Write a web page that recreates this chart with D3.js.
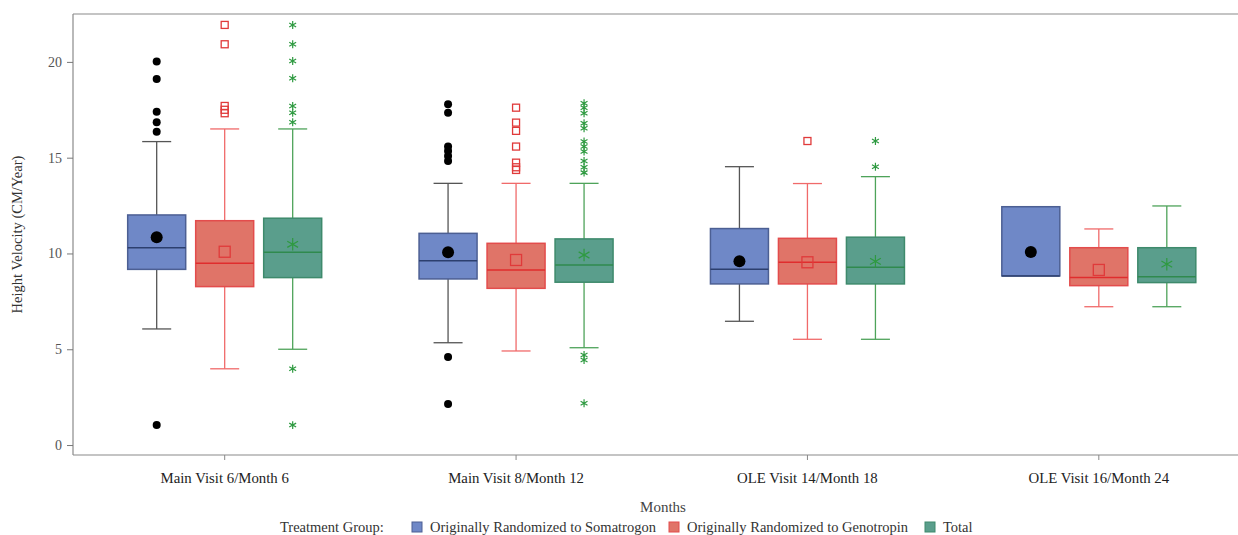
<!DOCTYPE html>
<html>
<head>
<meta charset="utf-8">
<script src="https://cdn.jsdelivr.net/npm/d3@7"></script>
<style>
  body { margin: 0; background: #fff; }
</style>
</head>
<body>
<div id="vis"></div>
<script>
const visits = ['Main Visit 6/Month 6', 'Main Visit 8/Month 12', 'OLE Visit 14/Month 18', 'OLE Visit 16/Month 24'];
const groups = ['Originally Randomized to Somatrogon', 'Originally Randomized to Genotropin', 'Total'];
const yTicks = [0, 5, 10, 15, 20];

// per visit: low whisker, q1, median, q3, high whisker, mean, outliers
const somatrogon = [
  { lo: 6.06, q1: 9.17, med: 10.30, q3: 12.01, hi: 15.84, mean: 10.85, out: [20.02, 19.11, 17.40, 16.85, 16.36, 1.04] },
  { lo: 5.34, q1: 8.67, med: 9.62, q3: 11.05, hi: 13.66, mean: 10.06, out: [17.79, 17.35, 15.58, 15.35, 15.09, 14.83, 4.60, 2.14] },
  { lo: 6.46, q1: 8.41, med: 9.17, q3: 11.30, hi: 14.53, mean: 9.59, out: [] },
  { lo: 8.83, q1: 8.83, med: 8.83, q3: 12.44, hi: 12.44, mean: 10.08, out: [] }
];
const genotropin = [
  { lo: 3.98, q1: 8.27, med: 9.49, q3: 11.71, hi: 16.50, mean: 10.09, out: [21.93, 20.92, 17.70, 17.50, 17.32] },
  { lo: 4.91, q1: 8.18, med: 9.14, q3: 10.53, hi: 13.66, mean: 9.66, out: [17.61, 16.83, 16.40, 15.58, 14.74, 14.50, 14.36] },
  { lo: 5.52, q1: 8.41, med: 9.54, q3: 10.79, hi: 13.65, mean: 9.54, out: [15.87] },
  { lo: 7.22, q1: 8.32, med: 8.74, q3: 10.30, hi: 11.28, mean: 9.14, out: [] }
];
const total = [
  { lo: 5.00, q1: 8.74, med: 10.06, q3: 11.84, hi: 16.50, mean: 10.48, out: [21.93, 20.92, 20.05, 19.15, 17.70, 17.35, 16.85, 3.98, 1.04] },
  { lo: 5.08, q1: 8.50, med: 9.40, q3: 10.76, hi: 13.66, mean: 9.92, out: [17.84, 17.61, 17.32, 16.80, 16.54, 15.84, 15.58, 15.32, 14.83, 14.50, 14.22, 4.70, 4.44, 2.18] },
  { lo: 5.52, q1: 8.41, med: 9.28, q3: 10.85, hi: 14.01, mean: 9.59, out: [15.87, 14.53] },
  { lo: 7.22, q1: 8.48, med: 8.79, q3: 10.30, hi: 12.48, mean: 9.44, out: [] }
];

const series = [somatrogon, genotropin, total];

const styles = [
  { fill: '#6f88c7', stroke: '#4c5f93', whisker: '#555555', median: '#2c3f6e', marker: 'circle', markerColor: '#000' },
  { fill: '#e07468', stroke: '#e34c4c', whisker: '#f06a6a', median: '#e02d2d', marker: 'square', markerColor: '#e03a3a' },
  { fill: '#5a9e8c', stroke: '#3e8a6c', whisker: '#4ea35a', median: '#2f8a4e', marker: 'asterisk', markerColor: '#2e9a40' }
];

const serif = '"Liberation Serif", "Times New Roman", Times, "DejaVu Serif", serif';

const width = 1238;
const height = 535;
const frame = { left: 73, right: 1238, top: 14, bottom: 455 };

const svg = d3.select('#vis').append('svg')
  .attr('width', width)
  .attr('height', height)
  .attr('font-family', serif);

const x = d3.scaleBand()
  .domain(visits)
  .range([79, 1244.5]);

const xInner = d3.scaleBand()
  .domain(groups)
  .range([-97, 97])
  .paddingInner(0.147);

const y = d3.scaleLinear()
  .domain([-0.52, 22.5])
  .range([frame.bottom, frame.top]);

// frame
svg.append('g')
  .attr('stroke', '#8a8a8a')
  .attr('stroke-width', 1.2)
  .call(g => {
    g.append('line').attr('x1', frame.left).attr('x2', frame.right).attr('y1', frame.top).attr('y2', frame.top);
    g.append('line').attr('x1', frame.left).attr('x2', frame.right).attr('y1', frame.bottom).attr('y2', frame.bottom);
    g.append('line').attr('x1', frame.left).attr('x2', frame.left).attr('y1', frame.top).attr('y2', frame.bottom);
  });

// y axis
const yAxis = svg.append('g')
  .attr('transform', `translate(${frame.left},0)`)
  .call(d3.axisLeft(y).tickValues(yTicks).tickSize(6).tickPadding(5))
  .attr('font-family', serif)
  .attr('font-size', 14);
yAxis.select('.domain').remove();
yAxis.selectAll('.tick line').attr('stroke', '#777');
yAxis.selectAll('.tick text').attr('fill', '#555');

// x axis
const xAxis = svg.append('g')
  .attr('transform', `translate(0,${frame.bottom})`)
  .call(d3.axisBottom(x).tickSize(5).tickPadding(12))
  .attr('font-family', serif)
  .attr('font-size', 14.8);
xAxis.select('.domain').remove();
xAxis.selectAll('.tick line').attr('stroke', '#888');
xAxis.selectAll('.tick text').attr('fill', '#222');

svg.append('text')
  .attr('transform', `translate(22,${(frame.top + frame.bottom) / 2}) rotate(-90)`)
  .attr('text-anchor', 'middle')
  .attr('fill', '#333')
  .attr('font-size', 14.5)
  .text('Height Velocity (CM/Year)');

svg.append('text')
  .attr('x', 663)
  .attr('y', 512)
  .attr('text-anchor', 'middle')
  .attr('fill', '#444')
  .attr('font-size', 15)
  .text('Months');

function drawMarker(sel, kind, color, size) {
  if (kind === 'circle') {
    sel.append('circle').attr('r', size / 2).attr('fill', color);
  } else if (kind === 'square') {
    sel.append('rect')
      .attr('x', -size / 2).attr('y', -size / 2)
      .attr('width', size).attr('height', size)
      .attr('fill', 'none').attr('stroke', color).attr('stroke-width', 1.3);
  } else {
    sel.append('path')
      .attr('d', d3.symbol().type(d3.symbolAsterisk).size(size * size * 0.9)())
      .attr('fill', 'none').attr('stroke', color).attr('stroke-width', 1.2);
  }
}

series.forEach((data, gi) => {
  const st = styles[gi];
  const bw = xInner.bandwidth();
  const g = svg.append('g').attr('class', 'series');

  data.forEach((d, vi) => {
    const left = x(visits[vi]) + x.bandwidth() / 2 + xInner(groups[gi]);
    const cx = left + bw / 2;
    const b = g.append('g');

    // whiskers
    b.append('line')
      .attr('x1', cx).attr('x2', cx).attr('y1', y(d.hi)).attr('y2', y(d.q3))
      .attr('stroke', st.whisker).attr('stroke-width', 1.3);
    b.append('line')
      .attr('x1', cx).attr('x2', cx).attr('y1', y(d.q1)).attr('y2', y(d.lo))
      .attr('stroke', st.whisker).attr('stroke-width', 1.3);
    if (d.hi > d.q3) {
      b.append('line')
        .attr('x1', cx - bw / 4).attr('x2', cx + bw / 4).attr('y1', y(d.hi)).attr('y2', y(d.hi))
        .attr('stroke', st.whisker).attr('stroke-width', 1.3);
    }
    if (d.lo < d.q1) {
      b.append('line')
        .attr('x1', cx - bw / 4).attr('x2', cx + bw / 4).attr('y1', y(d.lo)).attr('y2', y(d.lo))
        .attr('stroke', st.whisker).attr('stroke-width', 1.3);
    }

    // box
    b.append('rect')
      .attr('x', left).attr('y', y(d.q3))
      .attr('width', bw).attr('height', y(d.q1) - y(d.q3))
      .attr('fill', st.fill).attr('stroke', st.stroke).attr('stroke-width', 1.5);

    // median
    b.append('line')
      .attr('x1', left).attr('x2', left + bw).attr('y1', y(d.med)).attr('y2', y(d.med))
      .attr('stroke', st.median).attr('stroke-width', 1.5);

    // mean
    drawMarker(b.append('g').attr('transform', `translate(${cx},${y(d.mean)})`),
      st.marker, st.markerColor, st.marker === 'circle' ? 12 : 11);

    // outliers
    d.out.forEach(v => {
      drawMarker(b.append('g').attr('transform', `translate(${cx},${y(v)})`),
        st.marker, st.markerColor, st.marker === 'circle' ? 8 : 7);
    });
  });
});

// legend
const legend = svg.append('g').attr('transform', 'translate(0,527)');
legend.append('text')
  .attr('x', 280).attr('y', 4.5)
  .attr('fill', '#333')
  .attr('font-size', 14.5)
  .text('Treatment Group:');

const legendX = [412, 669, 925];
groups.forEach((name, i) => {
  legend.append('rect')
    .attr('x', legendX[i]).attr('y', -5)
    .attr('width', 10).attr('height', 10)
    .attr('fill', styles[i].fill)
    .attr('stroke', styles[i].stroke)
    .attr('stroke-width', 1);
  legend.append('text')
    .attr('x', legendX[i] + 18).attr('y', 4.5)
    .attr('fill', '#333')
    .attr('font-size', 14.5)
    .text(name);
});
</script>
</body>
</html>
